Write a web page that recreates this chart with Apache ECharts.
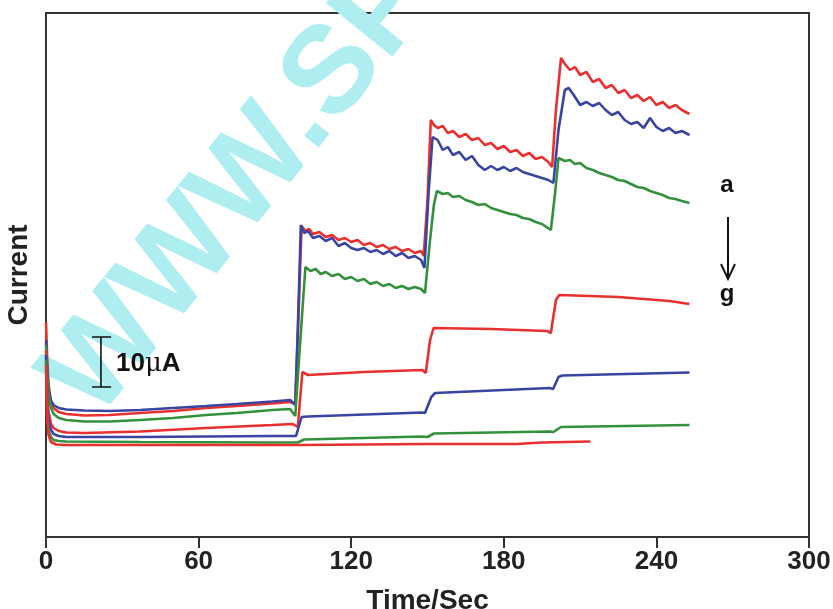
<!DOCTYPE html>
<html>
<head>
<meta charset="utf-8">
<script src="https://cdn.jsdelivr.net/npm/echarts@6/dist/echarts.min.js"></script>
<style>html,body{margin:0;padding:0;background:#fff;}#c{width:833px;height:609px;}</style>
</head>
<body>
<div id="c"></div>
<script>
// x tick labels (Time/Sec)
const xTicks = [0, 60, 120, 180, 240, 300];
// series names (a -> g)
const seriesNames = ['a', 'b', 'c', 'd', 'e', 'f', 'g'];
const seriesColors = ['#e8302f', '#3a44a3', '#33913e', '#e8302f', '#3a44a3', '#33913e', '#e8302f'];

// current (µA, arbitrary offset) vs time (s)
const curveA = [[0,43.0],[0.5,35.4],[1,30.4],[2,27.0],[3,25.8],[5,25.0],[8,24.6],[15,24.3],[25,24.4],[37,24.8],[50,25.2],[63,25.8],[75,26.2],[89,26.7],[96,27.0],[98,26.6],[99.5,47.4],[100.5,62.2],[102,61.2],[103.5,61.6],[105,60.6],[107.5,61.0],[110,60.0],[112.5,60.4],[115,59.4],[117.5,59.8],[120,59.0],[122.5,59.4],[125,58.4],[127.5,58.8],[130,58.0],[132.5,58.4],[135,57.6],[137.5,58.0],[140,57.2],[142.5,57.6],[145,56.8],[147.5,57.2],[148.5,56.2],[150,67.4],[151.3,83.4],[152.5,82.4],[154,81.8],[156,82.2],[158,80.8],[160,81.2],[162.5,80.0],[165,80.6],[167.5,79.4],[170,79.8],[172.5,78.4],[175,78.8],[177.5,77.6],[180,78.2],[182.5,77.0],[185,77.4],[187.5,76.2],[190,76.8],[192.5,75.6],[195,76.0],[197.5,75.0],[199,74.0],[200.5,85.4],[202.5,95.8],[204,94.6],[206,93.4],[208,94.0],[210,92.4],[212.5,93.0],[215,91.0],[217.5,91.6],[220,89.8],[222.5,90.4],[225,88.8],[227.5,89.4],[230,87.8],[232.5,88.4],[235,87.2],[237.5,88.0],[240,86.4],[242.5,87.0],[245,85.8],[247.5,86.4],[250,85.4],[253,84.6]];
const curveB = [[0,39.4],[0.5,33.4],[1,29.4],[2,27.2],[3,26.4],[5,25.8],[8,25.5],[15,25.3],[25,25.2],[37,25.4],[50,25.8],[63,26.2],[75,26.6],[89,27.1],[96,27.4],[98,26.4],[99,41.4],[100.2,62.4],[101.5,60.8],[103,61.2],[105,59.8],[107.5,60.2],[110,59.2],[112.5,59.8],[115,58.2],[117.5,58.8],[120,57.8],[122.5,57.4],[125,57.8],[127.5,57.0],[130,57.4],[132.5,56.6],[135,57.2],[137.5,56.2],[140,56.8],[142.5,55.8],[145,56.2],[147.5,55.4],[148.8,53.8],[150.5,69.4],[152,80.0],[154,79.4],[156,77.4],[158,78.0],[160,76.4],[162.5,77.0],[165,75.4],[167.5,76.2],[170,74.4],[172.5,73.4],[175,74.2],[177.5,73.4],[180,74.0],[182.5,73.2],[185,73.8],[187.5,73.0],[190,72.6],[192.5,72.2],[195,71.8],[197.5,71.4],[199.5,70.8],[201.5,81.4],[204,89.4],[205.5,89.8],[207.5,88.4],[210,86.4],[212.5,87.0],[215,86.2],[217.5,86.8],[220,85.4],[222.5,84.4],[225,85.0],[227.5,83.4],[230,82.6],[232.5,83.0],[235,81.8],[237.5,83.8],[240,82.0],[242.5,81.2],[245,81.8],[247.5,80.8],[250,81.2],[253,80.4]];
const curveC = [[0,38.4],[0.5,32.4],[1,28.4],[2,25.8],[3,24.6],[5,23.8],[8,23.4],[15,23.1],[25,23.1],[37,23.4],[50,23.8],[63,24.4],[75,24.8],[89,25.4],[96,25.6],[98,24.2],[100,39.4],[102,54.0],[104,53.2],[106,53.6],[108,52.6],[110,53.0],[112.5,52.2],[115,52.6],[117.5,51.6],[120,52.0],[122.5,51.2],[125,51.6],[127.5,50.6],[130,51.0],[132.5,50.2],[135,50.6],[137.5,49.8],[140,50.2],[142.5,49.6],[145,50.0],[147.5,49.6],[149,48.8],[151,59.4],[152.5,66.4],[153.7,69.2],[156,68.6],[158,68.8],[160,68.0],[162.5,68.2],[165,67.4],[167.5,67.0],[170,66.4],[172.5,66.6],[175,65.8],[177.5,65.4],[180,65.0],[182.5,64.6],[185,64.4],[187.5,63.8],[190,63.6],[192.5,63.0],[195,62.6],[198.5,61.4],[200.3,69.4],[201.5,75.8],[204,75.2],[206,75.4],[208,74.6],[210,74.8],[212.5,73.8],[215,73.4],[217.5,72.8],[220,72.4],[222.5,72.0],[225,71.4],[227.5,71.2],[230,70.6],[232.5,70.0],[235,69.8],[237.5,69.2],[240,68.8],[242.5,68.4],[245,67.8],[247.5,67.6],[250,67.2],[253,66.8]];
const curveD = [[0,37.4],[0.5,28.4],[1,25.0],[2,22.6],[3,21.8],[5,21.2],[8,20.9],[15,20.8],[37,21.1],[63,21.8],[89,22.4],[97,22.6],[99,22.0],[100.8,33.0],[103,32.4],[125,33.0],[148,33.4],[149.3,32.8],[151,39.4],[152.4,41.8],[175,41.6],[197,41.2],[198.5,40.8],[200.5,47.4],[201.8,48.4],[225,48.0],[245,47.2],[253,46.6]];
const curveE = [[0,36.4],[0.5,26.4],[1,23.4],[2,21.4],[3,20.6],[5,20.2],[8,20.0],[37,20.0],[63,20.1],[89,20.2],[98.3,20.2],[100.5,24.0],[103,24.1],[148,24.9],[149,24.8],[151.5,28.0],[153,28.8],[198,29.8],[199.4,29.6],[201.5,32.0],[203,32.3],[253,32.9]];
const curveF = [[0,35.4],[0.5,24.4],[1,21.4],[2,20.0],[3,19.4],[5,19.2],[8,19.1],[37,19.0],[89,18.9],[99,18.9],[101.5,19.5],[148,20.1],[150,20.0],[152.5,20.7],[198,21.1],[199.5,21.0],[202.5,22.0],[253,22.4]];
const curveG = [[0,34.4],[0.5,23.4],[1,20.4],[2,19.0],[4,18.5],[8,18.4],[100,18.4],[150,18.6],[185,18.6],[195,18.9],[214,19.1]];
const curves = [curveA, curveB, curveC, curveD, curveE, curveF, curveG];

// 10 µA scale bar (time position, current span)
const scaleBarT = 21.6;
const scaleBarSerif = [18.1, 25.6];
const scaleBarSpan = [30, 40];

const FONT = "'Liberation Sans', Arial, Helvetica, sans-serif";
const chart = echarts.init(document.getElementById('c'), null, {renderer: 'canvas'});

const series = curves.map((d, i) => ({
  name: seriesNames[i], type: 'line', data: d, showSymbol: false, symbol: 'none',
  lineStyle: {color: seriesColors[i], width: 2.6}, itemStyle: {color: seriesColors[i]},
  z: 3, silent: true, animation: false
}));
const barStyle = {color: '#111', width: 1.6};
series.push({type: 'line', data: [[scaleBarT, scaleBarSpan[0]], [scaleBarT, scaleBarSpan[1]]], symbol: 'none', lineStyle: barStyle, silent: true, z: 4});
series.push({type: 'line', data: [[scaleBarSerif[0], scaleBarSpan[0]], [scaleBarSerif[1], scaleBarSpan[0]]], symbol: 'none', lineStyle: barStyle, silent: true, z: 4});
series.push({type: 'line', data: [[scaleBarSerif[0], scaleBarSpan[1]], [scaleBarSerif[1], scaleBarSpan[1]]], symbol: 'none', lineStyle: barStyle, silent: true, z: 4});

const option = {
  animation: false,
  backgroundColor: '#ffffff',
  grid: {left: 46, right: 24, top: 13, bottom: 72, containLabel: false, outerBoundsMode: 'none',
         show: true, borderColor: '#333', borderWidth: 2, backgroundColor: 'transparent'},
  xAxis: {
    type: 'value', min: xTicks[0], max: xTicks[xTicks.length - 1], interval: 60,
    axisLine: {show: true, lineStyle: {color: '#333', width: 2}},
    axisTick: {show: true, inside: false, length: 11, lineStyle: {color: '#333', width: 2}},
    axisLabel: {fontSize: 26, fontWeight: 'bold', color: '#222', margin: 12, fontFamily: FONT},
    splitLine: {show: false},
    name: 'Time/Sec', nameLocation: 'middle', nameGap: 50,
    nameTextStyle: {fontSize: 28, fontWeight: 'bold', color: '#222', fontFamily: FONT}
  },
  yAxis: {
    type: 'value', min: 0, max: 104.8,
    axisLine: {show: true, lineStyle: {color: '#333', width: 2}},
    axisTick: {show: false}, axisLabel: {show: false}, splitLine: {show: false},
    name: 'Current', nameLocation: 'middle', nameGap: 13,
    nameTextStyle: {fontSize: 28, fontWeight: 'bold', color: '#222', fontFamily: FONT}
  },
  graphic: [
    {type: 'text', x: 70, y: 400, rotation: 51 * Math.PI / 180, z: 0, silent: true,
     style: {text: 'WWW.SP', fill: '#aeeef0', font: "bold 124px " + FONT, textAlign: 'left', textVerticalAlign: 'middle'}},
    {type: 'text', x: 116, y: 364, z: 10, silent: true,
     style: {text: '{b|10}{m|μ}{b|A}', textAlign: 'left', textVerticalAlign: 'middle',
       rich: {b: {fontSize: 26, fontWeight: 'bold', fontFamily: FONT, fill: '#111'},
              m: {fontSize: 26, fontWeight: 'normal', fontFamily: "'DejaVu Serif', serif", fill: '#111'}}}},
    {type: 'text', x: 727, y: 185, z: 10, silent: true,
     style: {text: 'a', font: "bold 24px " + FONT, fill: '#111', textAlign: 'center', textVerticalAlign: 'middle'}},
    {type: 'text', x: 727, y: 294, z: 10, silent: true,
     style: {text: 'g', font: "bold 24px " + FONT, fill: '#111', textAlign: 'center', textVerticalAlign: 'middle'}},
    {type: 'line', z: 10, silent: true, shape: {x1: 728, y1: 217, x2: 728, y2: 279}, style: {stroke: '#111', lineWidth: 2}},
    {type: 'polyline', z: 10, silent: true, shape: {points: [[721, 264], [728, 279], [735, 264]]}, style: {stroke: '#111', lineWidth: 2, fill: null}}
  ],
  series: series
};
chart.setOption(option);
</script>
</body>
</html>
